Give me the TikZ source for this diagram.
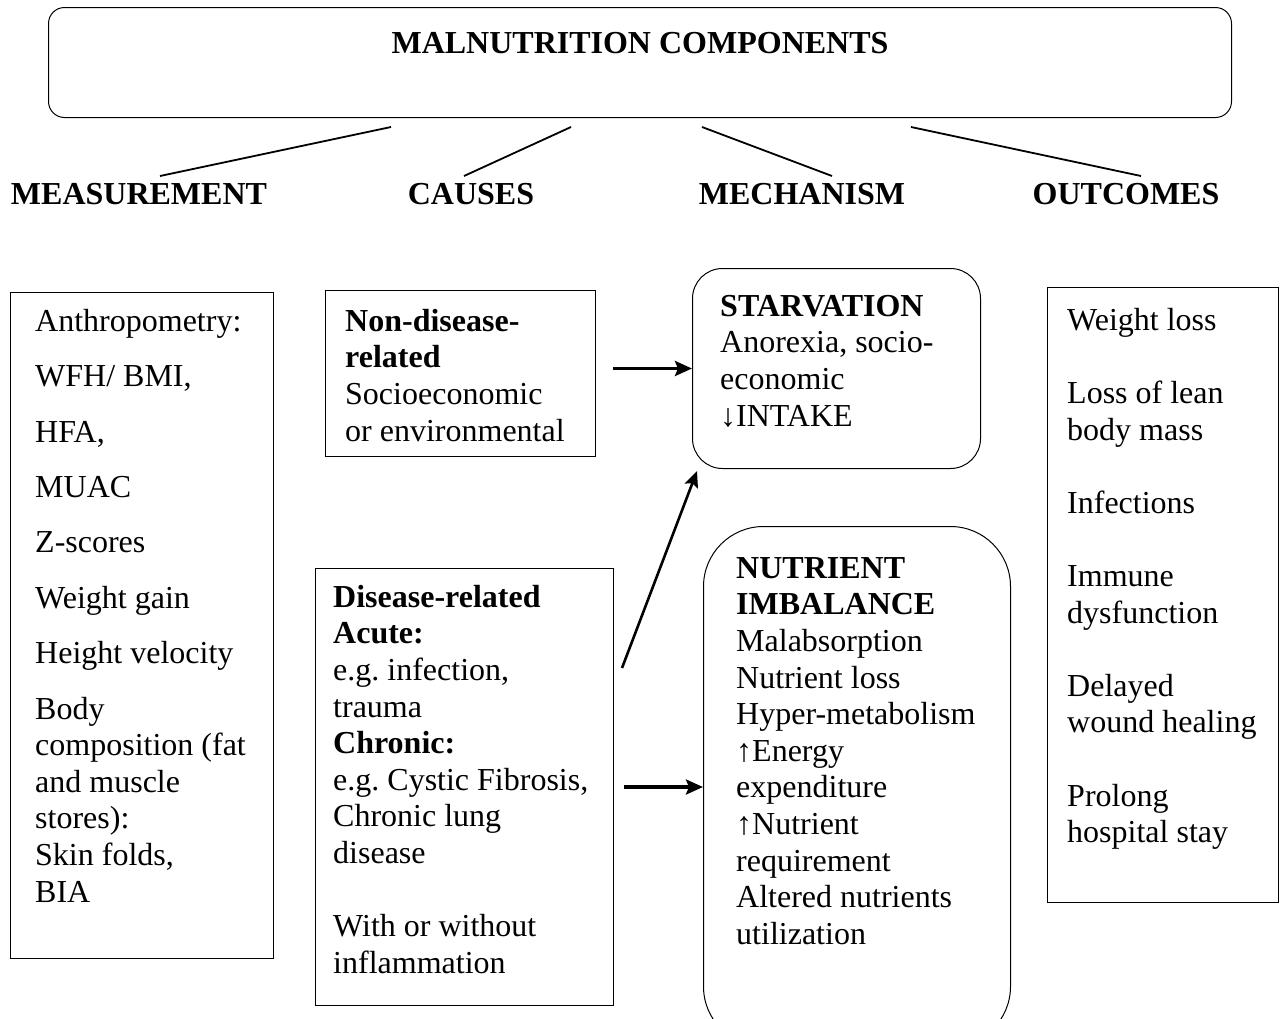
\documentclass[tikz,border=0pt]{standalone}
\usepackage{fontspec}
\setmainfont{Liberation Serif}
\usetikzlibrary{arrows.meta}
\frenchspacing
\begin{document}
\begin{tikzpicture}[x=1pt,y=-1pt,
  box/.style={draw, line width=1pt, inner sep=0pt, anchor=north west},
  txt/.style={anchor=north west, inner sep=0pt, align=left, font=\fontsize{32}{36.6}\selectfont},
  hdr/.style={anchor=base, inner sep=0pt, font=\fontsize{32}{36.6}\selectfont\bfseries},
  link/.style={line width=1.8pt},
  arr/.style={line width=3.4pt, -{Stealth[length=17pt,width=15pt,inset=3pt]}},
  arrthin/.style={line width=2.6pt, -{Stealth[length=16pt,width=14pt,inset=3pt]}}
]
\useasboundingbox (0,0) rectangle (1282,1018);
\fill[white] (0,0) rectangle (1282,1018);

% top box
\node[box, rounded corners=16pt, minimum width=1183pt, minimum height=110pt] (top) at (48,7) {};
\node[hdr] (title) at (640,53) {MALNUTRITION COMPONENTS};

% headers
\node[hdr] (hmeas) at (139,204) {MEASUREMENT};
\node[hdr] (hcause) at (471,204) {CAUSES};
\node[hdr] (hmech) at (802,204) {MECHANISM};
\node[hdr] (hout) at (1126,204) {OUTCOMES};

\coordinate (l1a) at (391,127); \coordinate (l1b) at (160,176);
\coordinate (l2a) at (571,127); \coordinate (l2b) at (464,176);
\coordinate (l3a) at (702,127); \coordinate (l3b) at (832,176);
\coordinate (l4a) at (911,127); \coordinate (l4b) at (1141,176);
\draw[link] (l1a) -- (l1b);
\draw[link] (l2a) -- (l2b);
\draw[link] (l3a) -- (l3b);
\draw[link] (l4a) -- (l4b);

% measurement
\node[box, minimum width=263pt, minimum height=666pt] (meas) at (10,292) {};
\node[txt] (meastxt) at (35,305.4) {\strut Anthropometry:\\[18.8pt]
WFH/ BMI,\\[18.8pt]
HFA,\\[18.8pt]
MUAC\\[18.8pt]
Z-scores\\[18.8pt]
Weight gain\\[18.8pt]
Height velocity\\[18.8pt]
Body\\
composition (fat\\
and muscle\\
stores):\\
Skin folds,\\
BIA};

% causes
\node[box, minimum width=270pt, minimum height=166pt] (nond) at (325,290) {};
\node[txt] (nondtxt) at (345,305.4) {\strut\textbf{Non-disease-}\\
\textbf{related}\\
Socioeconomic\\
or environmental};

\node[box, minimum width=298pt, minimum height=437pt] (dis) at (315,568) {};
\node[txt] (distxt) at (333,581.4) {\strut\textbf{Disease-related}\\
\textbf{Acute:}\\
e.g. infection,\\
trauma\\
\textbf{Chronic:}\\
e.g. Cystic Fibrosis,\\
Chronic lung\\
disease\\[36.6pt]
With or without\\
inflammation};

% mechanism
\node[box, rounded corners=30pt, minimum width=288pt, minimum height=200pt] (stv) at (692,268) {};
\node[txt] (stvtxt) at (720,290.4) {\strut\textbf{STARVATION}\\
Anorexia, socio-\\
economic\\
↓INTAKE};

\node[box, rounded corners=60pt, minimum width=307pt, minimum height=520pt] (nut) at (703,526) {};
\node[txt] (nuttxt) at (736,552.4) {\strut\textbf{NUTRIENT}\\
\textbf{IMBALANCE}\\
Malabsorption\\
Nutrient loss\\
Hyper-metabolism\\
↑Energy\\
expenditure\\
↑Nutrient\\
requirement\\
Altered nutrients\\
utilization};

% outcomes
\node[box, minimum width=231pt, minimum height=615pt] (out) at (1047,287) {};
\node[txt] (outtxt) at (1067,304.4) {\strut Weight loss\\[36.6pt]
Loss of lean\\
body mass\\[36.6pt]
Infections\\[36.6pt]
Immune\\
dysfunction\\[36.6pt]
Delayed\\
wound healing\\[36.6pt]
Prolong\\
hospital stay};

% arrows
\draw[arr, shorten <=17pt] (stv.west -| nond.east) -- (stv.west);
\draw[arr, shorten <=10pt] (dis.east) -- (dis.east -| nut.west);
\coordinate (dstart) at (622,668);
\draw[arrthin] (dstart) -- ([shift={(5,2)}]stv.south west);
\end{tikzpicture}
\end{document}
